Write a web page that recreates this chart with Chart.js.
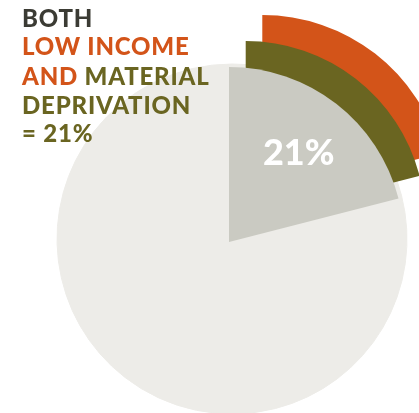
<!DOCTYPE html>
<html><head><meta charset="utf-8">
<script src="https://cdn.jsdelivr.net/npm/chart.js@4.4.1/dist/chart.umd.min.js"></script>
<style>
html,body{margin:0;padding:0;background:#fff;}
#wrap{position:relative;width:419px;height:413px;overflow:hidden;}
.layer{position:absolute;left:0;top:0;width:419px;height:413px;}
</style></head><body>
<div id="wrap">
<div class="layer"><canvas id="cLight"></canvas></div>
<div class="layer"><canvas id="cInc"></canvas></div>
<div class="layer"><canvas id="cDep"></canvas></div>
<div class="layer"><canvas id="cShare"></canvas></div>
</div>
<script>
// ---- data ----
const categories = ['Both low income and material deprivation', 'Other'];
const shareValues = [21, 79];
const sliceLabel = '21%';
const titleLines = [
  [['BOTH', 'dark']],
  [['LOW INCOME', 'orange']],
  [['AND ', 'orange'], ['MATERIAL', 'olive']],
  [['DEPRIVATION', 'olive']],
  [['= 21%', 'olive']]
];

// ---- style ----
const COLORS = { dark: '#3b3b34', orange: '#d35419', olive: '#6a6521', gray: '#cacac2', light: '#edece8' };
const FONT = 'Lato, "Open Sans", sans-serif';

function makeChart(id, colors, radius, pad, plugins, extra) {
  return new Chart(document.getElementById(id), {
    type: 'pie',
    data: {
      labels: categories,
      datasets: [Object.assign({ data: shareValues, backgroundColor: colors, borderWidth: 0, clip: false }, extra || {})]
    },
    options: {
      responsive: true, maintainAspectRatio: false, animation: false, events: [],
      radius: radius,
      layout: { padding: pad },
      plugins: { legend: { display: false }, tooltip: { enabled: false }, title: { display: false } }
    },
    plugins: plugins || []
  });
}

const labelPlugin = {
  id: 'sliceLabel',
  afterDatasetsDraw(chart) {
    const arc = chart.getDatasetMeta(0).data[0];
    const p = arc.getProps(['x', 'y', 'startAngle', 'endAngle', 'outerRadius'], true);
    const mid = (p.startAngle + p.endAngle) / 2;
    const r = p.outerRadius * 0.65;
    const ctx = chart.ctx;
    const size = 36;
    ctx.save();
    ctx.font = '900 ' + size + 'px ' + FONT;
    ctx.fillStyle = '#ffffff';
    ctx.textAlign = 'center';
    ctx.textBaseline = 'alphabetic';
    ctx.fillText(sliceLabel, p.x + Math.cos(mid) * r, p.y + Math.sin(mid) * r + size * 0.36);
    ctx.restore();
  }
};

const titlePlugin = {
  id: 'titleText',
  afterDraw(chart) {
    const ctx = chart.ctx;
    const baselines = [27, 54.5, 84.5, 114, 142];
    ctx.save();
    ctx.font = '900 24px ' + FONT;
    ctx.textBaseline = 'alphabetic';
    ctx.textAlign = 'left';
    try { ctx.letterSpacing = '0.8px'; } catch (e) {}
    titleLines.forEach((line, i) => {
      let x = 22;
      line.forEach(([txt, c]) => {
        ctx.fillStyle = COLORS[c];
        ctx.fillText(txt, x, baselines[i]);
        x += ctx.measureText(txt).width;
      });
    });
    ctx.restore();
  }
};

// full pie background (light)
makeChart('cLight', [COLORS.light, COLORS.light], 175,
  { left: 45, top: 65, right: 0, bottom: 0 }, [], { borderWidth: 1, borderColor: COLORS.light });
// low income wedge (furthest out, underneath)
makeChart('cInc', [COLORS.orange, 'rgba(0,0,0,0)'], 184,
  { left: 105.6, top: 0, right: 0, bottom: 15 }, []);
// material deprivation wedge
makeChart('cDep', [COLORS.olive, 'rgba(0,0,0,0)'], 179.5,
  { left: 72.4, top: 28, right: 0, bottom: 0 }, []);
// the 21% slice (on top) + texts
makeChart('cShare', [COLORS.gray, 'rgba(0,0,0,0)'], 175,
  { left: 39, top: 71, right: 0, bottom: 0 }, [labelPlugin, titlePlugin]);
</script>
</body></html>
